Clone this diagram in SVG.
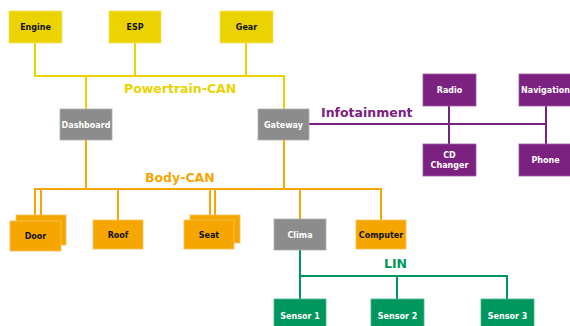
<svg xmlns="http://www.w3.org/2000/svg" width="570" height="326" viewBox="0 0 570 326">
<style>
.t{font-family:"DejaVu Sans",Verdana,sans-serif;font-weight:bold;font-size:8px;text-anchor:middle;dominant-baseline:central}
.dk{fill:#111}
.wt{fill:#fff}
.bus{font-family:"DejaVu Sans",Verdana,sans-serif;font-weight:bold;font-size:12.5px}
.y{fill:#EAD300;stroke:#F2E466;stroke-width:0.8}
.o{fill:#F5A600;stroke:#F8C35A;stroke-width:0.8}
.g{fill:#8C8C8C;stroke:#B0B0B0;stroke-width:0.8}
.p{fill:#7B2180;stroke:#A05AA4;stroke-width:0.8}
.n{fill:#00975E;stroke:#4DB98F;stroke-width:0.8}
.ly{stroke:#EAD300;stroke-width:2;fill:none}
.lo{stroke:#F5A600;stroke-width:2;fill:none}
.lp{stroke:#7B2180;stroke-width:2;fill:none}
.ln{stroke:#00975E;stroke-width:2;fill:none}
</style>
<rect width="570" height="326" fill="#fff"/>
<g id="connectors">
<polyline class="ly" points="35,43 35,76 284,76 284,109"/>
<line class="ly" x1="135" y1="43" x2="135" y2="76"/>
<line class="ly" x1="246" y1="43" x2="246" y2="76"/>
<line class="ly" x1="86" y1="76" x2="86" y2="109"/>
<polyline class="lo" points="35,221 35,189 381,189 381,220"/>
<line class="lo" x1="41" y1="189" x2="41" y2="215"/>
<line class="lo" x1="86" y1="140" x2="86" y2="189"/>
<line class="lo" x1="284" y1="140" x2="284" y2="189"/>
<line class="lo" x1="118" y1="189" x2="118" y2="220"/>
<line class="lo" x1="210" y1="189" x2="210" y2="220"/>
<line class="lo" x1="215" y1="189" x2="215" y2="215"/>
<line class="lo" x1="300" y1="189" x2="300" y2="219"/>
<line class="lp" x1="309" y1="124" x2="546" y2="124"/>
<line class="lp" x1="449" y1="106" x2="449" y2="144"/>
<line class="lp" x1="546" y1="106" x2="546" y2="144"/>
<polyline class="ln" points="300,250 300,299"/>
<polyline class="ln" points="300,276 507,276 507,299"/>
<line class="ln" x1="397" y1="276" x2="397" y2="299"/>
</g>
<text class="bus" x="124" y="93" fill="#EAD300">Powertrain-CAN</text>
<text class="bus" x="321" y="117" fill="#7B2180">Infotainment</text>
<text class="bus" x="145" y="182" fill="#F5A600">Body-CAN</text>
<text class="bus" x="384" y="268" fill="#00975E">LIN</text>
<g id="engine"><rect class="y" x="9" y="11" width="53" height="32"/><text class="t dk" x="35.5" y="27">Engine</text></g>
<g id="esp"><rect class="y" x="109" y="11" width="52" height="32"/><text class="t dk" x="135" y="27">ESP</text></g>
<g id="gear"><rect class="y" x="220" y="11" width="53" height="32"/><text class="t dk" x="246.5" y="27">Gear</text></g>
<g id="dashboard"><rect class="g" x="60" y="109" width="52" height="31"/><text class="t wt" x="86" y="125">Dashboard</text></g>
<g id="gateway"><rect class="g" x="258" y="109" width="51" height="31"/><text class="t wt" x="283.5" y="125">Gateway</text></g>
<g id="radio"><rect class="p" x="423" y="74" width="53" height="32"/><text class="t wt" x="449.5" y="90">Radio</text></g>
<g id="navigation"><rect class="p" x="519" y="74" width="53" height="32"/><text class="t wt" x="545.5" y="90">Navigation</text></g>
<g id="cdchanger"><rect class="p" x="423" y="144" width="53" height="32"/><text class="t wt" x="449.5" y="155.5">CD</text><text class="t wt" x="449.5" y="165">Changer</text></g>
<g id="phone"><rect class="p" x="519" y="144" width="53" height="32"/><text class="t wt" x="545.5" y="160">Phone</text></g>
<g id="door"><rect class="o" x="16" y="215" width="50" height="30"/><rect class="o" x="10" y="221" width="51" height="30"/><text class="t dk" x="35.5" y="236">Door</text></g>
<g id="roof"><rect class="o" x="93" y="220" width="50" height="29"/><text class="t dk" x="118" y="235">Roof</text></g>
<g id="seat"><rect class="o" x="190" y="215" width="50" height="28"/><rect class="o" x="184" y="220" width="50" height="29"/><text class="t dk" x="209" y="235">Seat</text></g>
<g id="clima"><rect class="g" x="274" y="219" width="52" height="31"/><text class="t wt" x="300" y="235">Clima</text></g>
<g id="computer"><rect class="o" x="356" y="220" width="50" height="29"/><text class="t dk" x="381" y="235">Computer</text></g>
<g id="sensor1"><rect class="n" x="274" y="299" width="52" height="32"/><text class="t wt" x="300" y="316">Sensor 1</text></g>
<g id="sensor2"><rect class="n" x="371" y="299" width="53" height="32"/><text class="t wt" x="397.5" y="316">Sensor 2</text></g>
<g id="sensor3"><rect class="n" x="481" y="299" width="53" height="32"/><text class="t wt" x="507.5" y="316">Sensor 3</text></g>
</svg>
